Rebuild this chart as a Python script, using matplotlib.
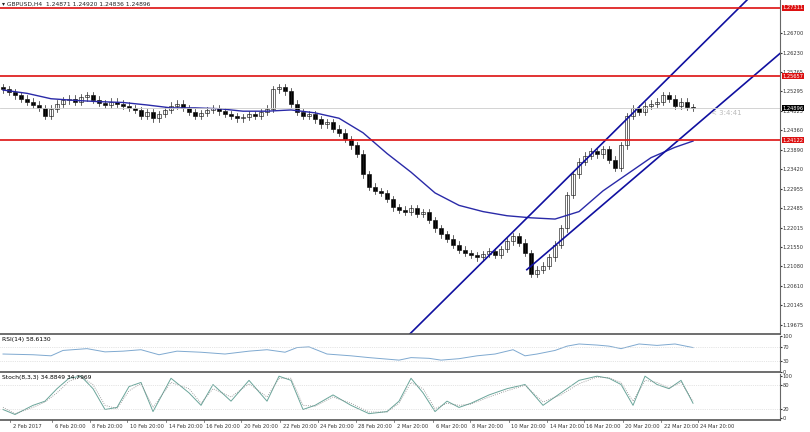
import matplotlib
matplotlib.use('Agg')
import matplotlib.pyplot as plt
import numpy as np

plt.rcParams['font.family'] = 'DejaVu Sans'

# H4 closes (bar index 0..115)
closes = [1.2535, 1.2528, 1.2520, 1.2512, 1.2505, 1.2498, 1.2490, 1.2470, 1.2488, 1.2500,
          1.2508, 1.2512, 1.2505, 1.2515, 1.2520, 1.2510, 1.2502, 1.2498, 1.2505, 1.2500,
          1.2495, 1.2490, 1.2485, 1.2470, 1.2480, 1.2465, 1.2475, 1.2485, 1.2495, 1.2500,
          1.2490, 1.2480, 1.2470, 1.2478, 1.2485, 1.2490, 1.2482, 1.2475, 1.2470, 1.2465,
          1.2468, 1.2475, 1.2470, 1.2480, 1.2488, 1.2535, 1.2540, 1.2530, 1.2500, 1.2480,
          1.2470, 1.2475, 1.2462, 1.2450, 1.2455, 1.2440, 1.2430, 1.2415, 1.2400, 1.2380,
          1.2330, 1.2300, 1.2290, 1.2285, 1.2270, 1.2250, 1.2245, 1.2240, 1.2248, 1.2235,
          1.2238, 1.2220, 1.2200, 1.2185, 1.2175, 1.2160, 1.2148, 1.2140, 1.2135, 1.2130,
          1.2138, 1.2145, 1.2135, 1.2150, 1.2168, 1.2180, 1.2165, 1.2140, 1.2090, 1.2100,
          1.2110, 1.2130, 1.2160, 1.2200, 1.2280, 1.2330, 1.2360, 1.2375, 1.2385, 1.2378,
          1.2390, 1.2365, 1.2345, 1.2400, 1.2470, 1.2490, 1.2480, 1.2495, 1.2500, 1.2505,
          1.2520, 1.2512, 1.2495, 1.2505, 1.2492, 1.2490]
first_open = 1.2540
wick = 0.0008

# moving average, every 4 bars
ma_idx = [0, 4, 8, 12, 16, 20, 24, 28, 32, 36, 40, 44, 48, 52, 56, 60, 64, 68, 72, 76,
          80, 84, 88, 92, 96, 100, 104, 108, 112, 115]
ma_vals = [1.2533, 1.2525, 1.2512, 1.2508, 1.2505, 1.2503, 1.2497, 1.2490, 1.2490, 1.2488,
           1.2482, 1.2482, 1.2485, 1.2478, 1.2465, 1.2430, 1.2380, 1.2335, 1.2285, 1.2255,
           1.2240, 1.2230, 1.2225, 1.2222, 1.2240, 1.2290, 1.2330, 1.2370, 1.2395, 1.2410]

levels = [1.2731, 1.25657, 1.24122]
level_labels = ['1.27311', '1.25657', '1.24122']
last_price = 1.24896

# channel lines (bar index, price)
upper_line = [(67.8, 1.1945), (124, 1.2750)]
lower_line = [(87.3, 1.2100), (134.5, 1.2683)]

price_ticks = [1.26700, 1.26230, 1.25765, 1.25295, 1.24825, 1.24360, 1.23890, 1.23420,
               1.22955, 1.22485, 1.22015, 1.21550, 1.21080, 1.20610, 1.20145, 1.19675]

rsi_idx = [0, 5, 8, 10, 14, 17, 20, 23, 26, 29, 33, 37, 41, 44, 47, 49, 51, 54, 58, 61,
           66, 68, 71, 73, 76, 79, 82, 85, 87, 89, 92, 94, 96, 99, 101, 103, 106, 109, 112, 115]
rsi_vals = [50, 48, 45, 60, 65, 56, 58, 62, 48, 58, 55, 50, 58, 62, 55, 68, 70, 50, 45, 40,
            33, 40, 38, 33, 37, 45, 50, 62, 45, 50, 60, 72, 78, 75, 72, 65, 78, 74, 78, 68]

stoch_idx = [0, 2, 5, 7, 9, 11, 13, 15, 17, 19, 21, 23, 25, 28, 31, 33, 35, 38, 41, 44,
             46, 48, 50, 52, 55, 58, 61, 64, 66, 68, 70, 72, 74, 76, 78, 81, 84, 87, 90,
             93, 96, 99, 101, 103, 105, 107, 109, 111, 113, 115]
stoch_main = [20, 8, 30, 40, 70, 95, 100, 70, 20, 25, 75, 85, 15, 95, 60, 30, 80, 40, 90, 40,
              100, 90, 20, 30, 55, 30, 10, 15, 40, 95, 60, 15, 40, 25, 35, 55, 70, 80, 30,
              60, 90, 100, 95, 80, 30, 100, 80, 70, 90, 35]
stoch_sig = [25, 10, 25, 38, 60, 88, 98, 80, 30, 22, 65, 82, 25, 85, 70, 35, 70, 50, 82, 50,
             95, 95, 30, 28, 50, 35, 14, 14, 35, 85, 70, 22, 35, 30, 33, 50, 65, 78, 38,
             55, 82, 98, 96, 85, 40, 90, 85, 72, 85, 40]

date_labels = ['2 Feb 2017', '6 Feb 20:00', '8 Feb 20:00', '10 Feb 20:00', '14 Feb 20:00',
               '16 Feb 20:00', '20 Feb 20:00', '22 Feb 20:00', '24 Feb 20:00', '28 Feb 20:00',
               '2 Mar 20:00', '6 Mar 20:00', '8 Mar 20:00', '10 Mar 20:00', '14 Mar 20:00',
               '16 Mar 20:00', '20 Mar 20:00', '22 Mar 20:00', '24 Mar 20:00']
date_pos = [1.2, 8.2, 14.5, 20.7, 27.2, 33.5, 39.7, 46.2, 52.5, 58.8, 65.2, 71.7, 77.8,
            84.3, 90.7, 96.8, 103.3, 109.7, 115.8]

XMAX = 129.5
FS = 3.7
fig = plt.figure(figsize=(8.1, 4.32), dpi=100)
ax = fig.add_axes([0, 0.227, 0.963, 0.773])
ax_rsi = fig.add_axes([0, 0.139, 0.963, 0.083])
ax_st = fig.add_axes([0, 0.028, 0.963, 0.106])

for a in (ax, ax_rsi, ax_st):
    a.set_xlim(-0.5, XMAX)
    a.yaxis.tick_right()
    a.tick_params(axis='y', labelsize=FS, length=1.5, pad=0.5, colors='#333333')
    a.set_xticks([])
    for s in ('top', 'left'):
        a.spines[s].set_visible(False)
    a.spines['right'].set_color('#666666')
    a.spines['bottom'].set_color('#555555')
    a.spines['bottom'].set_linewidth(1.2)

# candles
opens = [first_open] + closes[:-1]
for i, (o, c) in enumerate(zip(opens, closes)):
    hi = max(o, c) + wick
    lo = min(o, c) - wick
    ax.plot([i, i], [lo, hi], color='#222222', lw=0.5)
    face = 'white' if c >= o else 'black'
    ax.bar(i, max(abs(c - o), 0.00005), bottom=min(o, c), width=0.6,
           color=face, edgecolor='black', linewidth=0.4)

ax.plot(ma_idx, ma_vals, color='#2a2aa8', lw=1.0)
for (x0, y0), (x1, y1) in (upper_line, lower_line):
    ax.plot([x0, x1], [y0, y1], color='#1010a0', lw=1.2)
for lv, lb in zip(levels, level_labels):
    ax.axhline(lv, color='#dd1111', lw=1.2)
    ax.text(1.003, lv, lb, transform=ax.get_yaxis_transform(), fontsize=FS,
            color='white', va='center', ha='left',
            bbox=dict(boxstyle='square,pad=0.1', fc='#dd1111', ec='none'))
ax.axhline(last_price, color='#cccccc', lw=0.6)
ax.text(1.003, last_price, '1.24896', transform=ax.get_yaxis_transform(), fontsize=FS,
        color='white', va='center', ha='left',
        bbox=dict(boxstyle='square,pad=0.1', fc='black', ec='none'))
ax.text(118, last_price - 0.0012, '< 3:4:41', fontsize=5, color='#bbbbbb', va='center')
ax.set_ylim(1.19451, 1.27500)
ax.set_yticks(price_ticks)
ax.set_yticklabels([f'{p:.5f}' for p in price_ticks])
ax.text(0.003, 0.995, '\u25be GBPUSD,H4  1.24871 1.24920 1.24836 1.24896',
        transform=ax.transAxes, fontsize=4.3, va='top', color='#222222')

ax_rsi.plot(rsi_idx, rsi_vals, color='#7fa9d0', lw=0.7)
for lv in (70, 30):
    ax_rsi.axhline(lv, color='#cccccc', lw=0.5, ls=':')
ax_rsi.set_ylim(0, 100)
ax_rsi.set_yticks([0, 30, 70, 100])
ax_rsi.text(0.003, 0.97, 'RSI(14) 58.6130', transform=ax_rsi.transAxes, fontsize=4.3, va='top')

ax_st.plot(stoch_idx, stoch_main, color='#6aa59a', lw=0.7)
ax_st.plot(stoch_idx, stoch_sig, color='#888888', lw=0.6, ls=':')
for lv in (80, 20):
    ax_st.axhline(lv, color='#cccccc', lw=0.5, ls=':')
ax_st.set_ylim(-5, 105)
ax_st.set_yticks([0, 20, 80, 100])
ax_st.text(0.003, 0.97, 'Stoch(8,3,3) 34.8849 34.7969', transform=ax_st.transAxes,
           fontsize=4.3, va='top')
for p, lb in zip(date_pos, date_labels):
    ax_st.text(p + 0.4, -0.08, lb, transform=ax_st.get_xaxis_transform(), fontsize=FS,
               ha='left', va='top', color='#333333')
    ax_st.plot([p, p], [-5, -10], color='#555555', lw=0.5, clip_on=False)

fig.savefig('out.png', dpi=100)
